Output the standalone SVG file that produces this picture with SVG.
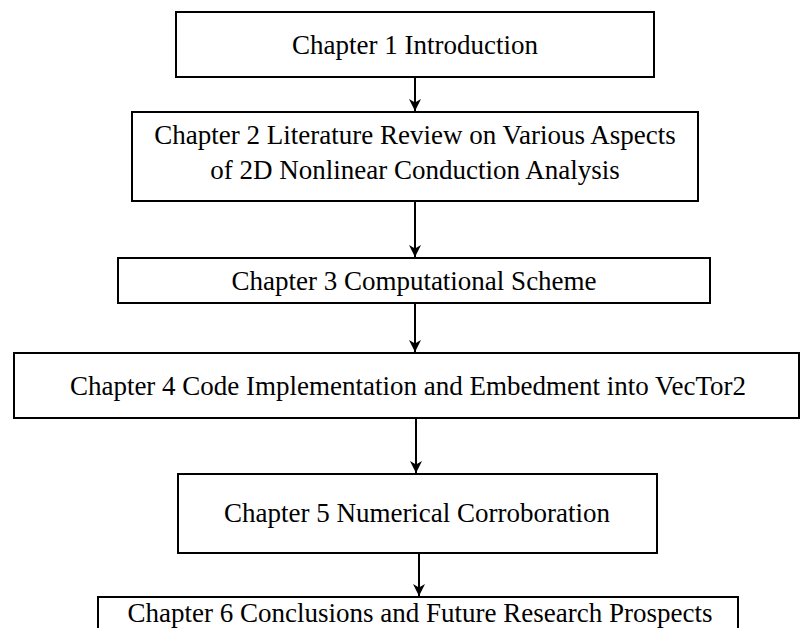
<svg xmlns="http://www.w3.org/2000/svg" width="801" height="628" viewBox="0 0 801 628">
<style>
.box{fill:#fff;stroke:#000;stroke-width:2}
.t{font-family:"Liberation Serif","Times New Roman",serif;font-size:27px;fill:#000;text-anchor:middle}
.c{stroke:#000;stroke-width:2;fill:none}
</style>
<defs>
<marker id="ah" viewBox="0 0 10 10" refX="10" refY="5" markerWidth="6" markerHeight="6" markerUnits="strokeWidth" orient="auto">
<path d="M0,0 L10,5 L0,10 L3,5 Z" fill="#000"/>
</marker>
</defs>
<rect width="801" height="628" fill="#fff"/>
<g id="n1"><rect class="box" x="176" y="12" width="478" height="65"/><text class="t" x="415" y="54">Chapter 1 Introduction</text></g>
<g id="n2"><rect class="box" x="132" y="112" width="566" height="89"/><text class="t" x="415" y="144">Chapter 2 Literature Review on Various Aspects</text><text class="t" x="415" y="179">of 2D Nonlinear Conduction Analysis</text></g>
<g id="n3"><rect class="box" x="118" y="258" width="592" height="45"/><text class="t" x="414" y="290">Chapter 3 Computational Scheme</text></g>
<g id="n4"><rect class="box" x="14" y="353" width="785" height="65"/><text class="t" x="408" y="395">Chapter 4 Code Implementation and Embedment into VecTor2</text></g>
<g id="n5"><rect class="box" x="178" y="474" width="479" height="79"/><text class="t" x="417" y="522">Chapter 5 Numerical Corroboration</text></g>
<g id="n6"><rect class="box" x="98" y="597" width="640" height="40"/><text class="t" x="420" y="622">Chapter 6 Conclusions and Future Research Prospects</text></g>
<g id="connectors">
<line class="c" x1="415" y1="77" x2="415" y2="111" marker-end="url(#ah)"/>
<line class="c" x1="415" y1="201" x2="415" y2="257" marker-end="url(#ah)"/>
<line class="c" x1="415" y1="303" x2="415" y2="352" marker-end="url(#ah)"/>
<line class="c" x1="416" y1="418" x2="416" y2="473" marker-end="url(#ah)"/>
<line class="c" x1="419" y1="553" x2="419" y2="596" marker-end="url(#ah)"/>
</g>
</svg>
